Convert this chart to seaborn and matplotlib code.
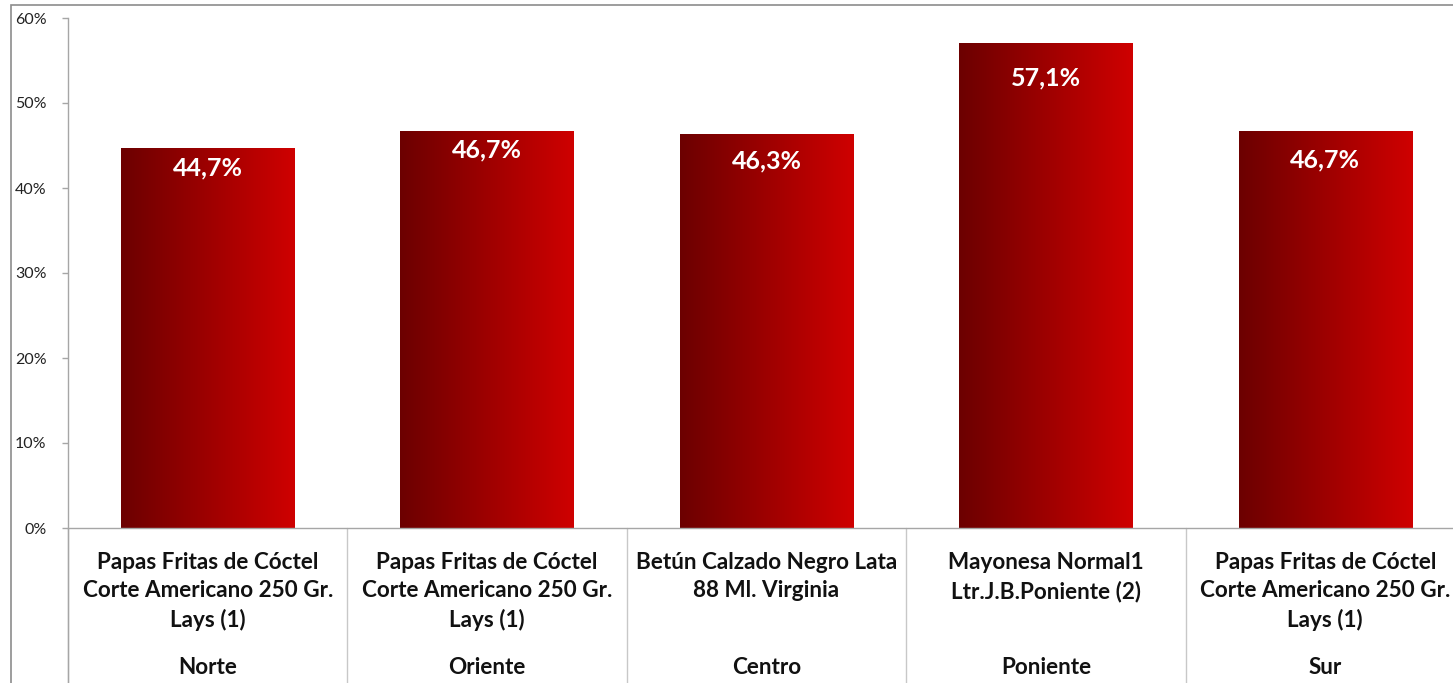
import matplotlib
matplotlib.use("Agg")
import matplotlib.pyplot as plt
import matplotlib.transforms as mtransforms
from matplotlib.colors import LinearSegmentedColormap
from matplotlib.patches import Rectangle
import numpy as np
import pandas as pd
import seaborn as sns

regions = ["Norte", "Oriente", "Centro", "Poniente", "Sur"]
products = [
    "Papas Fritas de Cóctel\nCorte Americano 250 Gr.\nLays (1)",
    "Papas Fritas de Cóctel\nCorte Americano 250 Gr.\nLays (1)",
    "Betún Calzado Negro Lata\n88 Ml. Virginia",
    "Mayonesa Normal1\nLtr.J.B.Poniente (2)",
    "Papas Fritas de Cóctel\nCorte Americano 250 Gr.\nLays (1)",
]
values = [44.7, 46.7, 46.3, 57.1, 46.7]
value_labels = ["44,7%", "46,7%", "46,3%", "57,1%", "46,7%"]
yticks = [0, 10, 20, 30, 40, 50, 60]
ytick_labels = ["0%", "10%", "20%", "30%", "40%", "50%", "60%"]

df = pd.DataFrame({"region": regions, "value": values})

sns.set_theme(style="white")
plt.rcParams["font.family"] = ["Lato", "DejaVu Sans"]

W, H = 1453, 683
fig = plt.figure(figsize=(W / 100, H / 100), dpi=100)
ax_left, ax_right, ax_top, ax_bot = 68, 1465, 18, 528
ax = fig.add_axes([ax_left / W, (H - ax_bot) / H, (ax_right - ax_left) / W, (ax_bot - ax_top) / H])

sns.barplot(data=df, x="region", y="value", ax=ax, width=0.62, color="#b00000",
            saturation=1, errorbar=None)

ax.set_xlim(-0.5, len(regions) - 0.5)
ax.set_ylim(0, 60)
ax.set_yticks(yticks)
ax.set_yticklabels(ytick_labels, fontsize=11.5, color="#222222")
ax.set_xticks([])
ax.set_xlabel("")
ax.set_ylabel("")
ax.tick_params(axis="y", which="both", left=True, length=4.5, width=1, color="#a6a6a6", pad=11)

for side in ["top", "right"]:
    ax.spines[side].set_visible(False)
for side in ["left", "bottom"]:
    ax.spines[side].set_color("#a6a6a6")
    ax.spines[side].set_linewidth(1)

# gradient fill
cmap = LinearSegmentedColormap.from_list("redgrad", ["#6c0000", "#cf0000"])
grad = np.linspace(0, 1, 256).reshape(1, -1)
for p in ax.patches:
    x0, y0 = p.get_x(), p.get_y()
    w, h = p.get_width(), p.get_height()
    p.set_facecolor("none")
    p.set_edgecolor("none")
    im = ax.imshow(grad, cmap=cmap, aspect="auto", extent=[x0, x0 + w, y0, y0 + h],
                   interpolation="bicubic", zorder=2)
    im.set_clip_path(p)

ax.set_xlim(-0.5, len(regions) - 0.5)
ax.set_ylim(0, 60)

# value labels
label_offsets = [-20, -19, -26, -35, -29]
for i, (v, lab) in enumerate(zip(values, value_labels)):
    ax.annotate(lab, xy=(i, v), xytext=(0, label_offsets[i] * 0.72), textcoords="offset points",
                ha="center", va="center", color="white", fontsize=18, fontweight="bold", zorder=5)

# category separators and labels below the axis
trans = mtransforms.blended_transform_factory(ax.transData, ax.transAxes)
depth = -(H - ax_bot) / (ax_bot - ax_top)
for b in np.arange(-0.5, len(regions) + 0.5, 1.0):
    ax.plot([b, b], [0, depth], transform=trans, color="#c8c8c8", lw=1, clip_on=False)
ax.plot([-0.5, -0.5], [0, depth], transform=trans, color="#a6a6a6", lw=1, clip_on=False)

px = 1.0 / (ax_bot - ax_top)
for i, (prod, reg) in enumerate(zip(products, regions)):
    ax.text(i, -(552 - ax_bot) * px, prod, transform=trans, ha="center", va="top",
            fontsize=16.2, fontweight="bold", color="#111111", linespacing=1.42)
    ax.text(i, -(668 - ax_bot) * px, reg, transform=trans, ha="center", va="center",
            fontsize=16.2, fontweight="bold", color="#111111")

# outer chart border
fig.patches.append(Rectangle((11 / W, -0.1), 1.2, (H - 5) / H + 0.1, transform=fig.transFigure,
                             fill=False, edgecolor="#8c8c8c", lw=1.2, zorder=0))

fig.savefig("out.png", dpi=100)
